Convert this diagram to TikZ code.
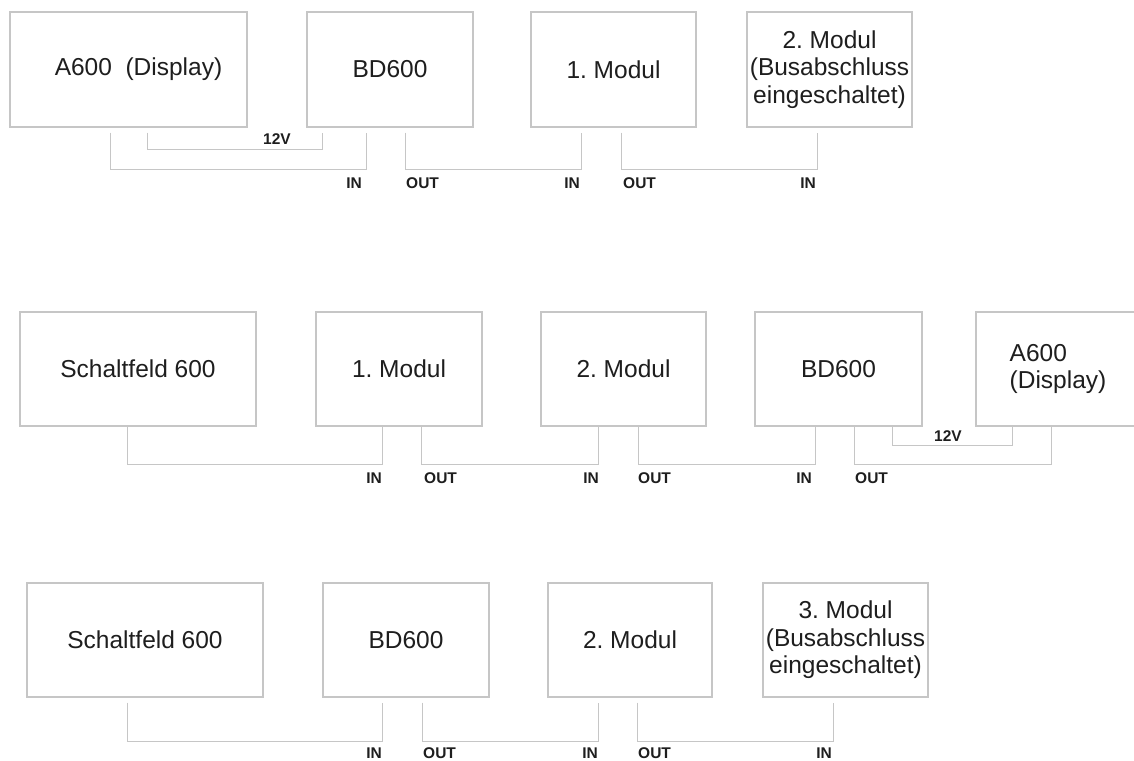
\documentclass[tikz,border=0pt]{standalone}
\usepackage{fontspec}
\setmainfont{Liberation Sans}
\frenchspacing
\definecolor{wiregray}{RGB}{198,198,198}
\definecolor{ink}{RGB}{30,30,30}
\tikzset{
  unit/.style={draw=wiregray, line width=1.3pt, inner sep=0pt, align=center,
               text=ink, font=\fontsize{24.5}{27.5}\selectfont},
  wire/.style={draw=wiregray, line width=1.3pt},
  port/.style={inner sep=0pt, text=ink, font=\fontsize{15.5}{18}\selectfont\bfseries},
}
\begin{document}
\begin{tikzpicture}[x=1pt,y=-1pt]
\clip (0,0) rectangle (1134,760);
\fill[white] (0,0) rectangle (1134,760);

% ---------- first chain ----------
\node[unit, minimum width=237pt, minimum height=115pt] (aA) at (128.5,69.5) {\hspace*{20pt}A600\ \ (Display)};
\node[unit, minimum width=166pt, minimum height=115pt] (aB) at (390,69.5) {BD600};
\node[unit, minimum width=165pt, minimum height=115pt] (aM1) at (613.5,69.5) {1. Modul};
\node[unit, minimum width=165pt, minimum height=115pt] (aM2) at (829.5,69.5) {2. Modul\\(Busabschluss\\eingeschaltet)};

\draw[wire] ([xshift=101pt,yshift=-5pt]aA.south west) -- ++(0,37) -| ([xshift=60pt,yshift=-5pt]aB.south west);
\draw[wire] ([xshift=138pt,yshift=-5pt]aA.south west) -- ++(0,17) -| ([xshift=16pt,yshift=-5pt]aB.south west);
\draw[wire] ([xshift=99pt,yshift=-5pt]aB.south west) -- ++(0,37) -| ([xshift=51pt,yshift=-5pt]aM1.south west);
\draw[wire] ([xshift=91pt,yshift=-5pt]aM1.south west) -- ++(0,37) -| ([xshift=71pt,yshift=-5pt]aM2.south west);

\node[port] (aV) at (277,139) {12V};
\node[port, anchor=base east] (aBin) at (362,188.5) {IN};
\node[port, anchor=base west] (aBout) at (406,188.5) {OUT};
\node[port, anchor=base east] (aM1in) at (580,188.5) {IN};
\node[port, anchor=base west] (aM1out) at (623,188.5) {OUT};
\node[port, anchor=base east] (aM2in) at (816,188.5) {IN};

% ---------- second chain ----------
\node[unit, minimum width=236pt, minimum height=114pt] (bS) at (138,369) {Schaltfeld 600};
\node[unit, minimum width=166pt, minimum height=114pt] (bM1) at (399,369) {1. Modul};
\node[unit, minimum width=165pt, minimum height=114pt] (bM2) at (623.5,369) {2. Modul};
\node[unit, minimum width=167pt, minimum height=114pt] (bB) at (838.5,369) {BD600};
\node[unit, minimum width=164pt, minimum height=114pt, align=left] (bA) at (1058,369) {A600\\(Display)};

\draw[wire] ([xshift=108pt]bS.south west) -- ++(0,38) -| ([xshift=67pt]bM1.south west);
\draw[wire] ([xshift=106pt]bM1.south west) -- ++(0,38) -| ([xshift=58pt]bM2.south west);
\draw[wire] ([xshift=98pt]bM2.south west) -- ++(0,38) -| ([xshift=61pt]bB.south west);
\draw[wire] ([xshift=100pt]bB.south west) -- ++(0,38) -| ([xshift=76pt]bA.south west);
\draw[wire] ([xshift=138pt]bB.south west) -- ++(0,19) -| ([xshift=37pt]bA.south west);

\node[port] (bV) at (948,436) {12V};
\node[port, anchor=base east] (bM1in) at (382,483.5) {IN};
\node[port, anchor=base west] (bM1out) at (424,483.5) {OUT};
\node[port, anchor=base east] (bM2in) at (599,483.5) {IN};
\node[port, anchor=base west] (bM2out) at (638,483.5) {OUT};
\node[port, anchor=base east] (bBin) at (812,483.5) {IN};
\node[port, anchor=base west] (bBout) at (855,483.5) {OUT};

% ---------- third chain ----------
\node[unit, minimum width=236pt, minimum height=114pt] (cS) at (145,640) {Schaltfeld 600};
\node[unit, minimum width=166pt, minimum height=114pt] (cB) at (406,640) {BD600};
\node[unit, minimum width=164pt, minimum height=114pt] (cM2) at (630,640) {2. Modul};
\node[unit, minimum width=165pt, minimum height=114pt] (cM3) at (845.5,640) {3. Modul\\(Busabschluss\\eingeschaltet)};

\draw[wire] ([xshift=101pt,yshift=-5pt]cS.south west) -- ++(0,39) -| ([xshift=60pt,yshift=-5pt]cB.south west);
\draw[wire] ([xshift=100pt,yshift=-5pt]cB.south west) -- ++(0,39) -| ([xshift=51pt,yshift=-5pt]cM2.south west);
\draw[wire] ([xshift=90pt,yshift=-5pt]cM2.south west) -- ++(0,39) -| ([xshift=71pt,yshift=-5pt]cM3.south west);

\node[port, anchor=base east] (cBin) at (382,758.5) {IN};
\node[port, anchor=base west] (cBout) at (423,758.5) {OUT};
\node[port, anchor=base east] (cM2in) at (598,758.5) {IN};
\node[port, anchor=base west] (cM2out) at (638,758.5) {OUT};
\node[port, anchor=base east] (cM3in) at (832,758.5) {IN};
\end{tikzpicture}
\end{document}
